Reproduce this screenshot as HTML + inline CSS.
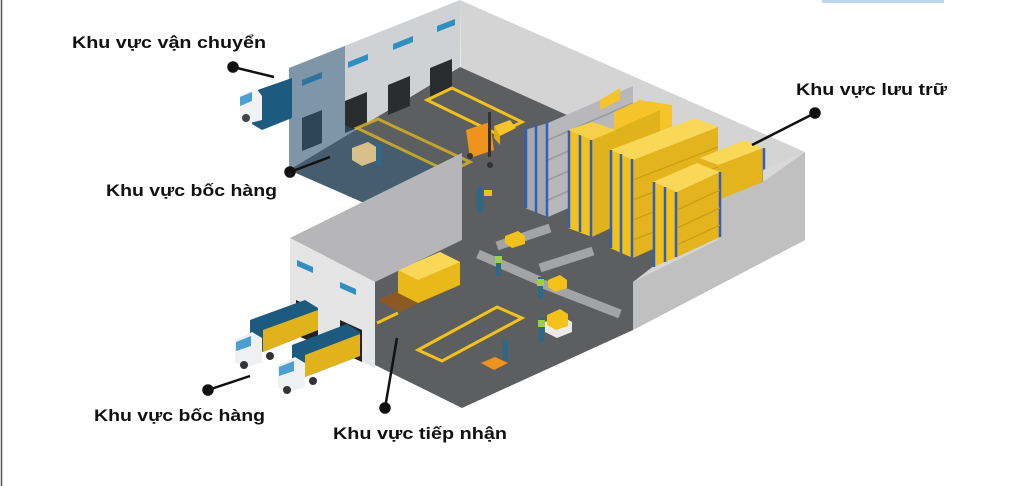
<!DOCTYPE html>
<html><head><meta charset="utf-8"><style>
html,body{margin:0;padding:0;background:#fff;}
svg{display:block;}
text{font-family:"Liberation Sans",sans-serif;font-weight:bold;font-size:17px;fill:#111;}
</style></head><body>
<svg width="1011" height="486" viewBox="0 0 1011 486" xmlns="http://www.w3.org/2000/svg">
<rect x="0" y="0" width="1011" height="486" fill="#fff"/>
<line x1="1.5" y1="0" x2="1.5" y2="486" stroke="#555" stroke-width="1.5"/>
<rect x="822" y="0" width="122" height="3" fill="#bcd6ea"/>

<!-- inner right wall -->
<polygon points="460,0 805,152 805,240 633,330 462,240" fill="#d4d4d5"/>
<!-- floor -->
<polygon points="289,170 460,67 745,195 700,230 633,282 633,330 462,408 375,365 375,230 385,212" fill="#5d5e60"/>
<!-- upper back wall -->
<polygon points="289,68 460,0 460,67 289,170" fill="#cfd1d4"/>
<!-- windows -->
<g fill="#2f8fc0">
<polygon points="302,80 322,72 322,78 302,86"/>
<polygon points="348,62 368,54 368,60 348,68"/>
<polygon points="393,44 413,36 413,42 393,50"/>
<polygon points="437,26 455,19 455,25 437,32"/>
</g>
<!-- doors -->
<g fill="#2b2c2e">
<polygon points="302,118 322,110 322,143 302,151"/>
<polygon points="345,101 367,92 367,124 345,133"/>
<polygon points="388,85 410,76 410,106 388,115"/>
<polygon points="430,68 452,59 452,89 430,98"/>
</g>
<!-- blue tint -->
<polygon points="289,68 345,46 345,125 462,178 462,190 385,212 289,170" fill="#2d5b7c" opacity="0.5"/>
<!-- upper truck -->
<polygon points="252,92 292,78 292,118 262,130 252,124" fill="#1d5a80"/>
<polygon points="240,95 256,88 262,96 262,120 246,124 240,118" fill="#f0f2f4"/>
<polygon points="240,97 252,92 252,101 240,106" fill="#4aa0d0"/>
<circle cx="246" cy="118" r="4" fill="#444"/>
<!-- upper floor markings -->
<polygon points="427,100 452,88 522,122 497,134" fill="none" stroke="#f2c21a" stroke-width="3"/>
<polygon points="357,128 378,119 470,162 449,172" fill="none" stroke="#d9b520" stroke-width="3" opacity="0.8"/>
<!-- pallet worker upper -->
<polygon points="352,148 368,142 378,148 378,160 362,166 352,160" fill="#d8c08a"/>
<rect x="376" y="144" width="5" height="22" fill="#2d6a8a"/>
<!-- forklift -->
<polygon points="466,130 490,122 494,150 470,158" fill="#f0921e"/>
<rect x="488" y="112" width="3" height="45" fill="#333"/>
<polygon points="494,126 510,120 516,128 500,136" fill="#f5c42a"/>
<polygon points="494,126 500,136 500,145 494,138" fill="#e0aa10"/>
<circle cx="470" cy="156" r="3" fill="#333"/><circle cx="490" cy="165" r="3" fill="#333"/>
<!-- workers -->
<rect x="477" y="188" width="6" height="24" fill="#2a6a88"/>
<rect x="484" y="190" width="8" height="6" fill="#f2c21a"/>

<!-- back racks gray -->
<polygon points="548,123 633,86 633,180 548,217" fill="#b8b8ba"/>
<g stroke="#9a9a9c" stroke-width="1.5">
<line x1="548" y1="140" x2="633" y2="103"/><line x1="548" y1="160" x2="633" y2="123"/><line x1="548" y1="180" x2="633" y2="143"/><line x1="548" y1="200" x2="633" y2="163"/>
</g>
<polygon points="525,130 548,123 548,217 525,208" fill="#a9a9ab"/>
<g stroke="#2f5fbf" stroke-width="2.5"><line x1="526" y1="128" x2="526" y2="208"/><line x1="536" y1="124" x2="536" y2="213"/><line x1="547" y1="122" x2="547" y2="217"/></g>
<polygon points="600,100 620,88 620,100 600,110" fill="#f5c42a"/>
<polygon points="614,112 640,100 672,105 672,130 640,140 614,135" fill="#f5c42a"/>
<!-- rack 2 yellow striped -->
<polygon points="592,140 660,110 660,205 592,237" fill="#e0b21c"/>
<polygon points="568,130 592,140 592,237 568,228" fill="#f2c21a"/>
<g stroke="#2f5fbf" stroke-width="2.5"><line x1="569" y1="130" x2="569" y2="228"/><line x1="580" y1="135" x2="580" y2="232"/><line x1="591" y1="140" x2="591" y2="237"/></g>
<polygon points="568,130 592,140 616,130 592,122" fill="#f7d04a"/>
<!-- rack 3 -->
<polygon points="633,160 718,127 718,220 633,258" fill="#e3b41e"/>
<polygon points="610,150 633,160 633,258 610,248" fill="#f2c21a"/>
<polygon points="610,150 633,160 718,127 695,118" fill="#f9d858"/>
<g stroke="#2f5fbf" stroke-width="2.5"><line x1="611" y1="150" x2="611" y2="248"/><line x1="621" y1="154" x2="621" y2="253"/><line x1="632" y1="159" x2="632" y2="258"/></g>
<g stroke="#c79a10" stroke-width="1"><line x1="633" y1="180" x2="718" y2="147"/><line x1="633" y1="200" x2="718" y2="167"/><line x1="633" y1="220" x2="718" y2="187"/><line x1="633" y1="240" x2="718" y2="207"/></g>
<!-- back small stack -->
<polygon points="718,165 763,148 763,188 718,205" fill="#e3b41e"/>
<polygon points="700,158 745,140 763,148 718,165" fill="#f9d858"/>
<line x1="764" y1="148" x2="764" y2="190" stroke="#2f5fbf" stroke-width="2.5"/>
<!-- outer right wall face -->
<polygon points="633,282 718,240 718,200 763,182 805,152 805,240 633,330" fill="#c0c0c1"/>
<polygon points="763,182 805,152 763,170" fill="#d8d8d9"/>
<!-- rack 4 front -->
<polygon points="677,192 720,172 720,237 677,257" fill="#e3b41e"/>
<polygon points="653,182 677,192 677,257 653,267" fill="#f2c21a"/>
<polygon points="653,182 677,192 720,172 697,163" fill="#f9d858"/>
<g stroke="#2f5fbf" stroke-width="2.5"><line x1="654" y1="182" x2="654" y2="267"/><line x1="665" y1="187" x2="665" y2="262"/><line x1="676" y1="192" x2="676" y2="257"/><line x1="720" y1="172" x2="720" y2="237"/></g>
<g stroke="#c79a10" stroke-width="1"><line x1="677" y1="210" x2="720" y2="190"/><line x1="677" y1="228" x2="720" y2="208"/><line x1="677" y1="245" x2="720" y2="225"/></g>

<!-- conveyors -->
<g stroke="#a3a4a6" stroke-width="9" stroke-linecap="butt">
<line x1="497" y1="246" x2="550" y2="228"/>
<line x1="478" y1="254" x2="540" y2="281"/>
<line x1="540" y1="268" x2="593" y2="251"/>
<line x1="543" y1="284" x2="620" y2="314"/>
</g>
<polygon points="505,236 518,231 525,236 525,244 512,248 505,243" fill="#f2c21a"/>
<polygon points="548,280 560,275 567,280 567,288 555,292 548,287" fill="#f2c21a"/>
<rect x="496" y="254" width="5" height="22" fill="#2a6a88"/><rect x="495" y="256" width="7" height="7" fill="#9ccf4a"/>
<rect x="538" y="277" width="5" height="22" fill="#2a6a88"/><rect x="537" y="279" width="7" height="7" fill="#9ccf4a"/>
<rect x="539" y="318" width="5" height="24" fill="#2a6a88"/><rect x="538" y="320" width="7" height="7" fill="#9ccf4a"/>
<polygon points="545,322 560,315 572,322 572,332 557,338 545,332" fill="#eaeaea"/>
<polygon points="547,315 560,309 568,314 568,326 556,330 547,325" fill="#f2c21a"/>
<polygon points="481,363 495,357 508,363 494,370" fill="#f0921e"/>
<rect x="503" y="340" width="5" height="20" fill="#2a6a88"/>

<!-- lower floor markings -->
<polygon points="418,350 497,307 522,318 442,361" fill="none" stroke="#f2c21a" stroke-width="3"/>
<line x1="377" y1="323" x2="398" y2="313" stroke="#f2c21a" stroke-width="3"/>
<!-- pallet & boxes -->
<polygon points="378,300 440,272 462,284 400,312" fill="#8a5a22"/>
<polygon points="398,270 440,252 460,262 460,285 418,303 398,293" fill="#e9b81a"/>
<polygon points="398,270 440,252 460,262 418,280" fill="#f9d858"/>

<!-- lower building -->
<polygon points="290,238 462,153 462,240 375,282" fill="#b6b6b8"/>
<polygon points="290,238 375,282 375,368 290,327" fill="#e5e5e6"/>
<polygon points="297,260 313,267 313,273 297,266" fill="#2f8fc0"/>
<polygon points="340,282 356,289 356,295 340,288" fill="#2f8fc0"/>
<polygon points="296,300 318,310 318,345 296,335" fill="#222"/>
<polygon points="340,320 362,330 362,362 340,352" fill="#222"/>
<!-- lower trucks -->
<polygon points="250,320 305,300 318,308 318,330 263,352 250,344" fill="#1d5a80"/>
<polygon points="263,330 318,310 318,330 263,352" fill="#e0b21c"/>
<polygon points="235,340 252,332 262,338 262,362 245,368 235,362" fill="#eef0f2"/>
<polygon points="236,342 251,336 251,346 236,351" fill="#4aa0d0"/>
<circle cx="244" cy="365" r="4" fill="#333"/><circle cx="270" cy="356" r="4" fill="#333"/>
<polygon points="292,345 347,324 360,332 360,356 305,377 292,369" fill="#1d5a80"/>
<polygon points="305,355 360,334 360,356 305,377" fill="#e0b21c"/>
<polygon points="278,365 295,357 305,363 305,387 288,393 278,387" fill="#eef0f2"/>
<polygon points="279,367 294,361 294,371 279,376" fill="#4aa0d0"/>
<circle cx="287" cy="390" r="4" fill="#333"/><circle cx="313" cy="381" r="4" fill="#333"/>

<!-- callouts -->
<g stroke="#111" stroke-width="2.5" fill="#111">
<line x1="233" y1="67" x2="274" y2="77"/><circle cx="233" cy="67" r="4.5"/>
<line x1="290" y1="172" x2="330" y2="157"/><circle cx="290" cy="172" r="4.5"/>
<line x1="815" y1="113" x2="752" y2="145"/><circle cx="815" cy="113" r="4.5"/>
<line x1="208" y1="390" x2="250" y2="376"/><circle cx="208" cy="390" r="4.5"/>
<line x1="385" y1="408" x2="397" y2="338"/><circle cx="385" cy="408" r="4.5"/>
</g>
<text x="72" y="48" textLength="194" lengthAdjust="spacingAndGlyphs">Khu vực vận chuyển</text>
<text x="106" y="196" textLength="171" lengthAdjust="spacingAndGlyphs">Khu vực bốc hàng</text>
<text x="796" y="95" textLength="151" lengthAdjust="spacingAndGlyphs">Khu vực lưu trữ</text>
<text x="94" y="421" textLength="171" lengthAdjust="spacingAndGlyphs">Khu vực bốc hàng</text>
<text x="333" y="439" textLength="174" lengthAdjust="spacingAndGlyphs">Khu vực tiếp nhận</text>
</svg>
</body></html>
